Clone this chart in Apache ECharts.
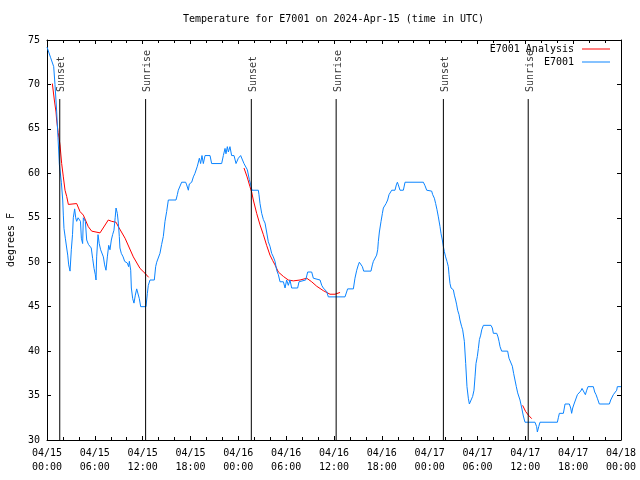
<!DOCTYPE html>
<html>
<head>
<meta charset="utf-8">
<script src="https://cdn.jsdelivr.net/npm/echarts@6/dist/echarts.min.js"></script>
<style>html,body{margin:0;padding:0;background:#fff}#c{width:640px;height:480px}</style>
</head>
<body>
<div id="c"></div>
<script>
// ---- data (hours since 2024-04-15 00:00 UTC) ----
const e7001Times = [0.0,0.17,0.46,0.71,0.84,1.0,1.21,1.38,1.55,1.80,1.97,2.05,2.13,2.3,2.47,2.60,2.72,2.89,3.05,3.2,3.30,3.47,3.60,3.72,3.9,4.06,4.2,4.31,4.47,4.56,4.70,4.81,4.98,5.2,5.39,5.55,5.73,5.9,6.06,6.15,6.23,6.40,6.55,6.73,6.9,7.07,7.23,7.40,7.57,7.74,7.9,8.07,8.23,8.40,8.55,8.66,8.82,8.95,9.07,9.15,9.32,9.55,9.74,9.9,10.08,10.24,10.33,10.50,10.58,10.75,10.91,11.08,11.25,11.42,11.58,11.75,12.42,12.59,12.71,12.92,13.46,13.63,13.76,13.97,14.17,14.38,14.59,14.80,15.01,15.22,16.18,16.35,16.47,16.68,16.89,17.39,17.52,17.73,17.85,18.15,18.36,18.56,18.86,19.11,19.27,19.44,19.61,19.82,20.45,20.65,21.91,22.12,22.33,22.45,22.62,22.75,22.95,23.16,23.46,23.71,24.0,24.29,24.54,24.71,24.96,25.13,25.38,25.55,25.71,26.51,26.59,26.72,26.93,27.14,27.35,27.55,27.76,27.97,28.18,28.39,28.60,28.81,29.02,29.23,29.65,29.86,30.06,30.27,30.48,30.69,31.44,31.61,31.74,32.45,32.70,33.20,33.41,33.62,34.25,34.46,34.66,34.87,35.08,35.29,37.38,37.71,38.43,38.63,38.85,39.05,39.18,39.39,39.56,39.72,40.64,40.81,40.94,41.14,41.35,41.48,41.56,41.69,41.90,42.07,42.19,42.40,42.53,42.73,42.90,43.03,43.24,43.65,43.82,43.95,44.07,44.28,44.70,44.91,47.21,47.42,47.63,48.25,48.38,48.59,48.75,48.92,49.09,49.30,49.43,49.59,49.72,49.84,50.0,50.17,50.34,50.43,50.55,50.68,50.97,51.1,51.26,51.39,51.51,51.68,51.8,52.0,52.14,52.35,52.52,52.68,52.85,52.98,53.19,53.39,53.56,53.69,53.81,53.98,54.11,54.24,54.40,54.53,54.74,55.69,55.86,55.99,56.41,56.57,56.70,56.83,57.03,57.78,57.95,58.2,58.37,58.53,58.70,58.87,59.04,59.33,59.55,59.75,59.96,61.21,61.42,61.51,61.68,61.84,64.02,64.14,64.27,64.77,64.98,65.52,65.69,65.81,65.94,66.11,66.36,66.53,66.78,66.94,67.11,67.28,67.53,67.70,67.86,68.53,68.70,68.87,69.03,69.28,70.54,70.71,70.87,71.04,71.29,71.46,71.54,72.0];
const e7001Values = [74.2,74,73,73,72,70,67,64,61,59,57,55.3,53.8,52.7,51.6,50.8,49.7,49,51.4,53.1,55,56,55,54.6,55,55,54.6,52.7,52.1,55,55,54.6,52.5,52,51.9,51.6,50.4,49.3,48.6,48,50.6,53.1,52.1,51.4,51.2,50.6,49.7,49.1,50.6,51.9,51.4,52.5,53.1,53.6,55,56.1,55.5,54.4,52.9,51.6,51,50.6,50.1,49.9,49.9,49.5,50.1,49.1,47.1,45.9,45.4,46.3,47,47,45.9,45,45,46.5,47.4,48,48,49.5,50,50.1,51,52,52.9,54.6,55.7,57,57,57.6,58.1,58.3,59,59,58.7,58.1,58.8,59,59.6,60,60.8,61.7,61.1,62,61.1,62,62,61.1,61.1,62,62.8,62.2,63,62.4,63,62,62,61.1,61.7,62,61.9,61.1,60.9,60.4,59.3,58.7,58.1,58.1,57.6,56.6,55.5,54.8,54.4,53.4,52.3,51.8,51,50.6,50.1,49.1,48.6,47.8,47.8,47.1,48,47.4,48,47.1,47.1,47.8,48,48,48.9,48.9,48.2,48,48,47.4,47.1,47.1,46.7,46.1,46.1,47,47,48.2,49.1,49.7,50,50,49.5,49,49,49.7,50.1,50.3,50.8,51.4,52.3,53.4,54.6,55.5,56.1,56.3,56.6,57,57.6,57.8,58.1,58.1,58.7,59,58.7,58.1,58.1,59,59,58.6,58.1,58,57.6,57.2,56.6,55.9,55.1,54,53.2,52.5,51.75,51.2,50.6,50.1,49.5,48.6,47.6,47.1,46.9,46.3,45.75,45.2,44.6,44.1,43.5,42.8,42.4,41.1,38.6,36,34.7,34.05,34.05,34.9,35.6,37.1,38.6,39.4,40.3,41.3,41.8,42.4,42.9,42.9,42.6,42,42,41.6,41.1,40.5,40,40,39.2,39,38.3,37.5,36.75,36,35.3,34.5,33.6,32.7,32,32,31.5,30.9,31.5,32,32,32.5,33,33,34.05,34.05,33.6,33,33.6,34.05,34.2,35.1,35.1,35.5,35.8,36,35.1,35.6,36,36,35.4,35.1,34.7,34.05,34.05,34.5,34.7,35.1,35.1,35.6,36,36];

const analysisTimes = [0.67,0.92,1.13,1.21,1.40,1.63,1.84,2.05,2.26,2.47,2.68,3.72,4.14,4.56,5.18,5.60,6.65,7.69,8.11,8.66,8.95,9.79,10.83,11.67,12.30,12.75, 13.0, 24.71,24.84,25.1,25.46,25.67,25.88,26.30,26.72,27.14,27.55,27.97,28.30,28.60,29.02,29.65,30.27,30.9,31.74,32.58,33.2,33.83,34.66,35.5,36.13,36.76, 37.0, 59.66,60.04,60.38,60.80];
const analysisValues = [70.1,68.25,66.9,66,64.6,63.2,61.1,59.6,58.1,57.4,56.5,56.6,55.7,55.3,54,53.5,53.3,54.75,54.6,54.5,54,52.7,50.6,49.3,48.75,48.3, null, 60.6,60.4,59.6,58.5,57.9,57,55.5,54.2,53.1,51.9,50.8,50.2,49.7,48.9,48.4,48,47.9,48,48.2,47.8,47.3,46.8,46.4,46.4,46.6, null, 33.9,33.2,32.8,32.4];

const eventTimes = [1.6, 12.37, 25.63, 36.27, 49.72, 60.36];
const eventLabels = ['Sunset','Sunrise','Sunset','Sunrise','Sunset','Sunrise'];

const xTickLabels = ['04/15\n00:00','04/15\n06:00','04/15\n12:00','04/15\n18:00','04/16\n00:00','04/16\n06:00','04/16\n12:00','04/16\n18:00','04/17\n00:00','04/17\n06:00','04/17\n12:00','04/17\n18:00','04/18\n00:00'];

const titleText = 'Temperature for E7001 on 2024-Apr-15 (time in UTC)';
const yName = 'degrees F';
const nameAnalysis = 'E7001 Analysis';
const nameObs = 'E7001';

// ---- build ----
const FONT = 'DejaVu Sans Mono';
const LINE_TOP = 68.36;   // where the event lines start (value units)
const LABEL_BASE = 69.15; // where event labels start
const Y_MIN = 30, Y_MAX = 75;

const obsData = e7001Times.map((t, i) => [t, e7001Values[i]]);
const anaData = analysisTimes.map((t, i) => [t, analysisValues[i] === null ? '-' : analysisValues[i]]);
const evLineData = [];
eventTimes.forEach(t => { evLineData.push([t, Y_MIN], [t, LINE_TOP], [t, '-']); });
const evLabelData = eventTimes.map((t, i) => ({ value: [t, LABEL_BASE], label: { formatter: eventLabels[i] } }));

const chart = echarts.init(document.getElementById('c'), null, { renderer: 'canvas' });

const tickStyle = { color: '#000', width: 1 };
const xCommon = {
  type: 'value', min: 0, max: 72, interval: 6,
  axisLine: { show: true, onZero: false, lineStyle: tickStyle },
  axisTick: { show: true, inside: true, length: 4, lineStyle: tickStyle },
  minorTick: { show: true, splitNumber: 3, length: 3, lineStyle: tickStyle },
  splitLine: { show: false }
};
const yCommon = {
  type: 'value', min: Y_MIN, max: Y_MAX, interval: 5,
  axisLine: { show: true, onZero: false, lineStyle: tickStyle },
  axisTick: { show: true, inside: true, length: 4, lineStyle: tickStyle },
  splitLine: { show: false }
};

chart.setOption({
  animation: false,
  backgroundColor: '#fff',
  textStyle: { fontFamily: FONT },
  title: {
    text: titleText, left: 183, top: 14, padding: 0,
    textStyle: { fontFamily: FONT, fontSize: 10, fontWeight: 'normal', color: '#000' }
  },
  grid: { left: 47, right: 19, top: 40, bottom: 40, containLabel: false, outerBoundsMode: 'none' },
  legend: [
    { data: [nameAnalysis], right: 30, top: 44, orient: 'vertical', align: 'right', icon: 'rect',
      itemWidth: 28, itemHeight: 1, padding: 0, selectedMode: false,
      textStyle: { fontFamily: FONT, fontSize: 10, color: '#000', padding: [0, 3, 0, 0] } },
    { data: [nameObs], right: 30, top: 57, orient: 'vertical', align: 'right', icon: 'rect',
      itemWidth: 28, itemHeight: 1, padding: 0, selectedMode: false,
      textStyle: { fontFamily: FONT, fontSize: 10, color: '#000', padding: [0, 3, 0, 0] } }
  ],
  xAxis: [
    Object.assign({}, xCommon, {
      position: 'bottom',
      axisLabel: { formatter: v => xTickLabels[Math.round(v / 6)], color: '#000', fontFamily: FONT, fontSize: 10, lineHeight: 14, margin: 6 }
    }),
    Object.assign({}, xCommon, { position: 'top', axisLabel: { show: false } })
  ],
  yAxis: [
    Object.assign({}, yCommon, {
      position: 'left',
      name: yName, nameLocation: 'middle', nameRotate: 90, nameGap: 31,
      nameTextStyle: { fontFamily: FONT, fontSize: 10, color: '#000' },
      axisLabel: { color: '#000', fontFamily: FONT, fontSize: 10, margin: 7 }
    }),
    Object.assign({}, yCommon, { position: 'right', axisLabel: { show: false } })
  ],
  series: [
    { name: nameAnalysis, type: 'line', data: anaData, showSymbol: false, connectNulls: false,
      color: '#ff0000', lineStyle: { color: '#ff0000', width: 1 }, z: 2 },
    { name: nameObs, type: 'line', data: obsData, showSymbol: false,
      color: '#0a84ff', lineStyle: { color: '#0a84ff', width: 1 }, z: 3 },
    { name: 'events', type: 'line', data: evLineData, showSymbol: false, connectNulls: false,
      lineStyle: { color: '#000', width: 1 }, z: 4, silent: true },
    { name: 'eventLabels', type: 'scatter', data: evLabelData, symbolSize: 0, silent: true, z: 5,
      label: { show: true, position: [2, 0], rotate: 90, align: 'left', verticalAlign: 'middle',
        fontFamily: FONT, fontSize: 10, color: '#000' } }
  ]
});
</script>
</body>
</html>
